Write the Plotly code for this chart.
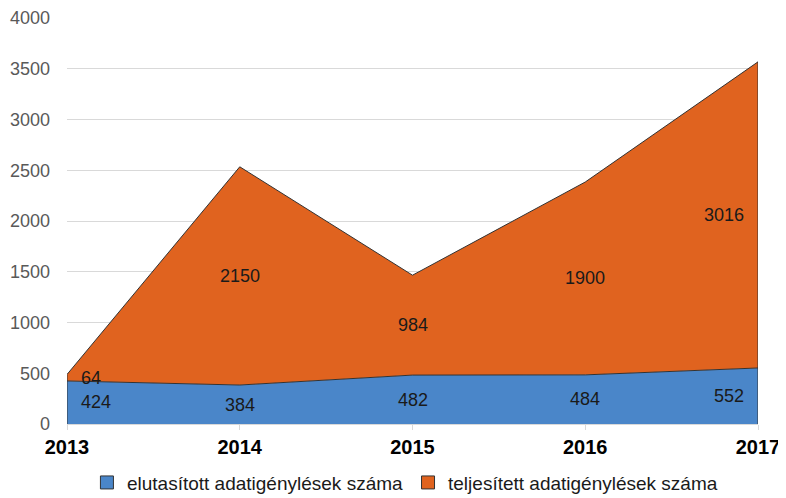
import plotly.graph_objects as go

# adatok
years = [2013, 2014, 2015, 2016, 2017]
elutasitott = [424, 384, 482, 484, 552]
teljesitett = [64, 2150, 984, 1900, 3016]
names = ["elutasított adatigénylések száma", "teljesített adatigénylések száma"]

blue = "#4A86C9"
orange = "#E0631F"
edge = "#333333"

fig = go.Figure()

for vals, name, col in [(elutasitott, names[0], blue), (teljesitett, names[1], orange)]:
    fig.add_trace(go.Scatter(
        x=years, y=vals, name=name, stackgroup="one", mode="lines",
        line=dict(color=edge, width=1), fillcolor=col, showlegend=False
    ))

# square legend entries
for name, col in zip(names, [blue, orange]):
    fig.add_trace(go.Scatter(
        x=[None], y=[None], mode="markers", name=name,
        marker=dict(symbol="square", size=13, color=col, line=dict(color=edge, width=1))
    ))

# vertical border lines at both ends of the area
totals = [b + t for b, t in zip(elutasitott, teljesitett)]
for i in (0, -1):
    fig.add_trace(go.Scatter(
        x=[years[i], years[i]], y=[0, totals[i]], mode="lines",
        line=dict(color=edge, width=1), showlegend=False, hoverinfo="skip"
    ))

# data labels in the middle of each band
blue_mid = [v / 2 for v in elutasitott]
orange_mid = [b + t / 2 for b, t in zip(elutasitott, teljesitett)]
for mids, vals in [(blue_mid, elutasitott), (orange_mid, teljesitett)]:
    for i, (x, y, v) in enumerate(zip(years, mids, vals)):
        if i == 0:
            anchor, shift = "left", 12
        elif i == len(years) - 1:
            anchor, shift = "right", -12
        else:
            anchor, shift = "center", 0
        fig.add_annotation(x=x, y=y, text=str(v), showarrow=False,
                           xanchor=anchor, xshift=shift,
                           font=dict(size=18, color="#1a1a1a"))

# page has an 8px body margin, so margins are shifted by that amount
fig.update_layout(
    width=786, height=498,
    margin=dict(l=59, r=36, t=10, b=82),
    plot_bgcolor="white", paper_bgcolor="white",
    font=dict(family="Liberation Sans, Arial, sans-serif"),
    legend=dict(orientation="h", xref="container", yref="container",
                x=0.505, xanchor="center", y=0.047, yanchor="middle",
                font=dict(size=19, color="#1a1a1a"), traceorder="normal",
                itemwidth=30),
    xaxis=dict(
        tickvals=years, ticktext=[f"<b>{y}</b>" for y in years],
        range=[2013, 2017], showgrid=False, zeroline=False,
        tickfont=dict(size=20, color="black"), automargin=False,
        ticks="outside", ticklen=5, tickcolor="#d9d9d9",
        showline=True, linecolor="#d9d9d9"
    ),
    yaxis=dict(
        range=[0, 4000], dtick=500, gridcolor="#d9d9d9",
        tickfont=dict(size=18, color="#595959"), zeroline=False,
        ticklabelstandoff=16, automargin=False
    ),
)

fig.write_html("out.html")
